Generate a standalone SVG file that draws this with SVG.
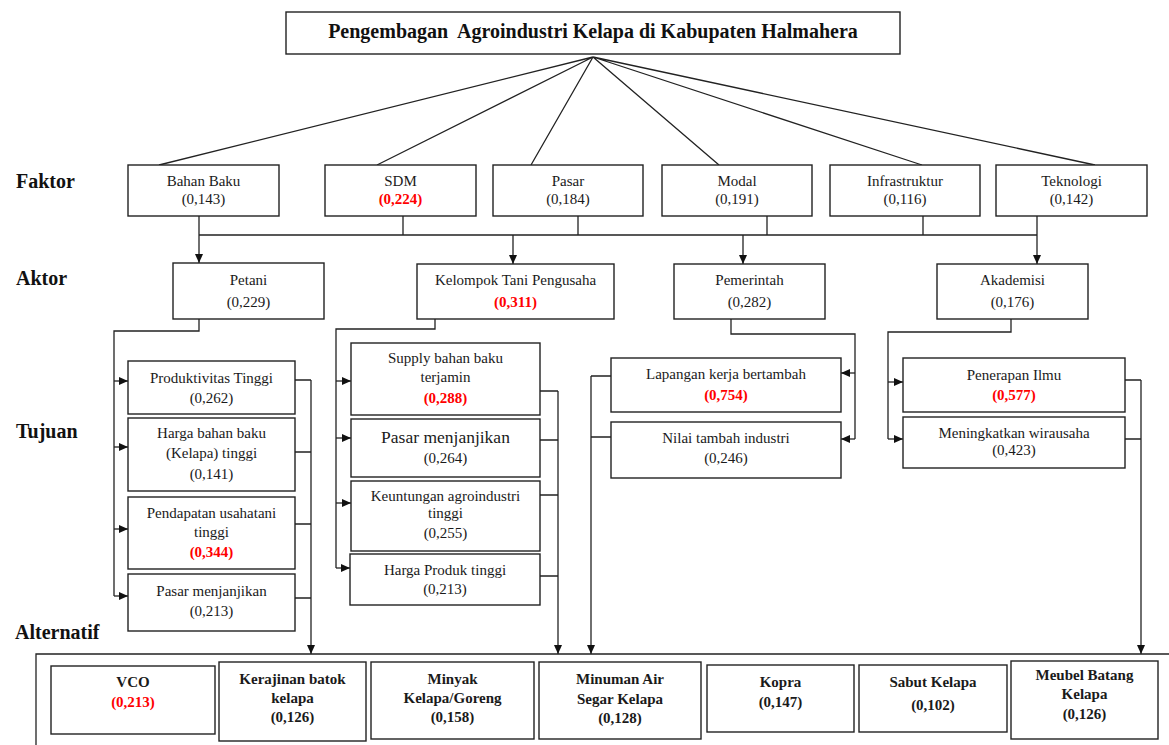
<svg xmlns="http://www.w3.org/2000/svg" width="1169" height="745" viewBox="0 0 1169 745">
<defs>
<style>
.bx{fill:#fff;stroke:#222;stroke-width:1.4}
.t{font-size:15px;fill:#1a1a1a;text-anchor:middle}
.b{font-weight:bold}
.r{fill:#ff0000;font-weight:bold}
.big{font-size:17.5px}
.lvl{font-size:20px;font-weight:bold;fill:#111}
.ttl{font-size:20px;font-weight:bold;fill:#111;text-anchor:middle}
.c{fill:none;stroke:#222;stroke-width:1.3}
.a{marker-end:url(#ah)}
</style>
<marker id="ah" markerUnits="userSpaceOnUse" markerWidth="10" markerHeight="8" refX="9" refY="4" orient="auto">
<path d="M0,0 L9,4 L0,8 z" fill="#111"/>
</marker>
</defs>
<rect width="1169" height="745" fill="#fff"/>
<g font-family="'Liberation Serif', 'Times New Roman', serif">

<g id="labels">
<text class="lvl" x="16" y="188">Faktor</text>
<text class="lvl" x="16" y="285">Aktor</text>
<text class="lvl" x="16" y="438">Tujuan</text>
<text class="lvl" x="15" y="639">Alternatif</text>
</g>

<g id="connectors">
<path class="c" d="M593,57 L159,165 M593,57 L377,165 M593,57 L531,165 M593,57 L719,165 M593,57 L922,165 M593,57 L1095,165"/>
<path class="c" d="M199,216 V235 M403,216 V235 M578,216 V235 M767,216 V235 M923,216 V235 M1037,216 V235 M199,235 H1037"/>
<path class="c a" d="M199,235 V263"/>
<path class="c a" d="M513,235 V264"/>
<path class="c a" d="M743,235 V264"/>
<path class="c a" d="M1037,235 V264"/>
<path class="c" d="M199,319 V331 H114 V596"/>
<path class="c a" d="M114,381 H128"/>
<path class="c a" d="M114,447 H128"/>
<path class="c a" d="M114,529 H128"/>
<path class="c a" d="M114,596 H128"/>
<path class="c" d="M295,380 H311 M295,452 H311 M295,524 H311 M295,598 H311"/>
<path class="c a" d="M311,380 V654"/>
<path class="c" d="M435,319 V329 H336 V568"/>
<path class="c a" d="M336,381 H351"/>
<path class="c a" d="M336,438 H351"/>
<path class="c a" d="M336,503 H351"/>
<path class="c a" d="M336,568 H350"/>
<path class="c" d="M540,391 H558 M540,440 H558 M540,495 H558 M540,576 H558"/>
<path class="c a" d="M558,391 V654"/>
<path class="c" d="M731,319 V334 H855 V439"/>
<path class="c a" d="M855,373 H841"/>
<path class="c a" d="M855,439 H841"/>
<path class="c" d="M611,376 H591 M611,437 H591"/>
<path class="c a" d="M591,376 V654"/>
<path class="c" d="M1011,319 V332 H888 V439"/>
<path class="c a" d="M888,382 H903"/>
<path class="c a" d="M888,439 H903"/>
<path class="c" d="M1125,380 H1141 M1125,439 H1141"/>
<path class="c a" d="M1141,380 V654"/>
<path class="c" d="M36,746 V654 H1170"/>
</g>

<g id="goal">
<rect class="bx" x="286" y="12" width="614" height="42"/>
<text class="ttl" x="593" y="38" xml:space="preserve">Pengembagan  Agroindustri Kelapa di Kabupaten Halmahera</text>
</g>

<g id="f-bahanbaku"><rect class="bx" x="128" y="165" width="151" height="51"/><text class="t" x="203.5" y="186">Bahan Baku</text><text class="t" x="203.5" y="204">(0,143)</text></g>
<g id="f-sdm"><rect class="bx" x="325" y="165" width="151" height="51"/><text class="t" x="400.5" y="186">SDM</text><text class="t r" x="400.5" y="204">(0,224)</text></g>
<g id="f-pasar"><rect class="bx" x="493" y="165" width="150" height="51"/><text class="t" x="568" y="186">Pasar</text><text class="t" x="568" y="204">(0,184)</text></g>
<g id="f-modal"><rect class="bx" x="662" y="165" width="150" height="51"/><text class="t" x="737" y="186">Modal</text><text class="t" x="737" y="204">(0,191)</text></g>
<g id="f-infra"><rect class="bx" x="830" y="165" width="150" height="51"/><text class="t" x="905" y="186">Infrastruktur</text><text class="t" x="905" y="204">(0,116)</text></g>
<g id="f-tekno"><rect class="bx" x="996" y="165" width="151" height="51"/><text class="t" x="1071.5" y="186">Teknologi</text><text class="t" x="1071.5" y="204">(0,142)</text></g>

<g id="a-petani"><rect class="bx" x="173" y="263" width="151" height="56"/><text class="t" x="248.5" y="285">Petani</text><text class="t" x="248.5" y="307">(0,229)</text></g>
<g id="a-kelompok"><rect class="bx" x="417" y="264" width="197" height="55"/><text class="t" x="515.5" y="285">Kelompok Tani Pengusaha</text><text class="t r" x="515.5" y="307">(0,311)</text></g>
<g id="a-pemerintah"><rect class="bx" x="674" y="264" width="151" height="55"/><text class="t" x="749.5" y="285">Pemerintah</text><text class="t" x="749.5" y="307">(0,282)</text></g>
<g id="a-akademisi"><rect class="bx" x="937" y="264" width="151" height="55"/><text class="t" x="1012.5" y="285">Akademisi</text><text class="t" x="1012.5" y="307">(0,176)</text></g>

<g id="t-produktivitas"><rect class="bx" x="128" y="361" width="167" height="53"/><text class="t" x="211.5" y="383">Produktivitas Tinggi</text><text class="t" x="211.5" y="403">(0,262)</text></g>
<g id="t-harga-bahan"><rect class="bx" x="128" y="418" width="167" height="73"/><text class="t" x="211.5" y="438">Harga bahan baku</text><text class="t" x="211.5" y="458">(Kelapa) tinggi</text><text class="t" x="211.5" y="479">(0,141)</text></g>
<g id="t-pendapatan"><rect class="bx" x="128" y="497" width="167" height="72"/><text class="t" x="211.5" y="518">Pendapatan usahatani</text><text class="t" x="211.5" y="537">tinggi</text><text class="t r" x="211.5" y="557">(0,344)</text></g>
<g id="t-pasar-petani"><rect class="bx" x="128" y="574" width="167" height="57"/><text class="t" x="211.5" y="596">Pasar menjanjikan</text><text class="t" x="211.5" y="616">(0,213)</text></g>

<g id="t-supply"><rect class="bx" x="351" y="343" width="189" height="72"/><text class="t" x="445.5" y="363">Supply bahan baku</text><text class="t" x="445.5" y="382">terjamin</text><text class="t r" x="445.5" y="403">(0,288)</text></g>
<g id="t-pasar-kelompok"><rect class="bx" x="351" y="419" width="189" height="58"/><text class="t big" x="445.5" y="443">Pasar menjanjikan</text><text class="t" x="445.5" y="463">(0,264)</text></g>
<g id="t-keuntungan"><rect class="bx" x="351" y="481" width="189" height="70"/><text class="t" x="445.5" y="501">Keuntungan agroindustri</text><text class="t" x="445.5" y="518">tinggi</text><text class="t" x="445.5" y="538">(0,255)</text></g>
<g id="t-harga-produk"><rect class="bx" x="350" y="554" width="190" height="51"/><text class="t" x="445" y="575">Harga Produk tinggi</text><text class="t" x="445" y="594">(0,213)</text></g>

<g id="t-lapangan"><rect class="bx" x="611" y="358" width="230" height="54"/><text class="t" x="726" y="379">Lapangan kerja bertambah</text><text class="t r" x="726" y="400">(0,754)</text></g>
<g id="t-nilai"><rect class="bx" x="611" y="422" width="230" height="56"/><text class="t" x="726" y="443">Nilai tambah industri</text><text class="t" x="726" y="463">(0,246)</text></g>

<g id="t-penerapan"><rect class="bx" x="903" y="358" width="222" height="54"/><text class="t" x="1014" y="380">Penerapan Ilmu</text><text class="t r" x="1014" y="400">(0,577)</text></g>
<g id="t-wirausaha"><rect class="bx" x="903" y="417" width="222" height="51"/><text class="t" x="1014" y="438">Meningkatkan wirausaha</text><text class="t" x="1014" y="455">(0,423)</text></g>

<g id="alt-vco"><rect class="bx" x="51" y="666" width="164" height="68"/><text class="t b" x="133" y="687">VCO</text><text class="t r" x="133" y="707">(0,213)</text></g>
<g id="alt-kerajinan"><rect class="bx" x="219" y="662" width="147" height="79"/><text class="t b" x="292.5" y="684">Kerajinan batok</text><text class="t b" x="292.5" y="703">kelapa</text><text class="t b" x="292.5" y="722">(0,126)</text></g>
<g id="alt-minyak"><rect class="bx" x="371" y="662" width="163" height="77"/><text class="t b" x="452.5" y="684">Minyak</text><text class="t b" x="452.5" y="703">Kelapa/Goreng</text><text class="t b" x="452.5" y="722">(0,158)</text></g>
<g id="alt-minuman"><rect class="bx" x="539" y="662" width="162" height="77"/><text class="t b" x="620" y="684">Minuman Air</text><text class="t b" x="620" y="704">Segar Kelapa</text><text class="t b" x="620" y="723">(0,128)</text></g>
<g id="alt-kopra"><rect class="bx" x="707" y="665" width="147" height="67"/><text class="t b" x="780.5" y="687">Kopra</text><text class="t b" x="780.5" y="707">(0,147)</text></g>
<g id="alt-sabut"><rect class="bx" x="859" y="665" width="148" height="67"/><text class="t b" x="933" y="687">Sabut Kelapa</text><text class="t b" x="933" y="710">(0,102)</text></g>
<g id="alt-meubel"><rect class="bx" x="1011" y="661" width="147" height="78"/><text class="t b" x="1084.5" y="680">Meubel Batang</text><text class="t b" x="1084.5" y="699">Kelapa</text><text class="t b" x="1084.5" y="719">(0,126)</text></g>
</g>
</svg>
